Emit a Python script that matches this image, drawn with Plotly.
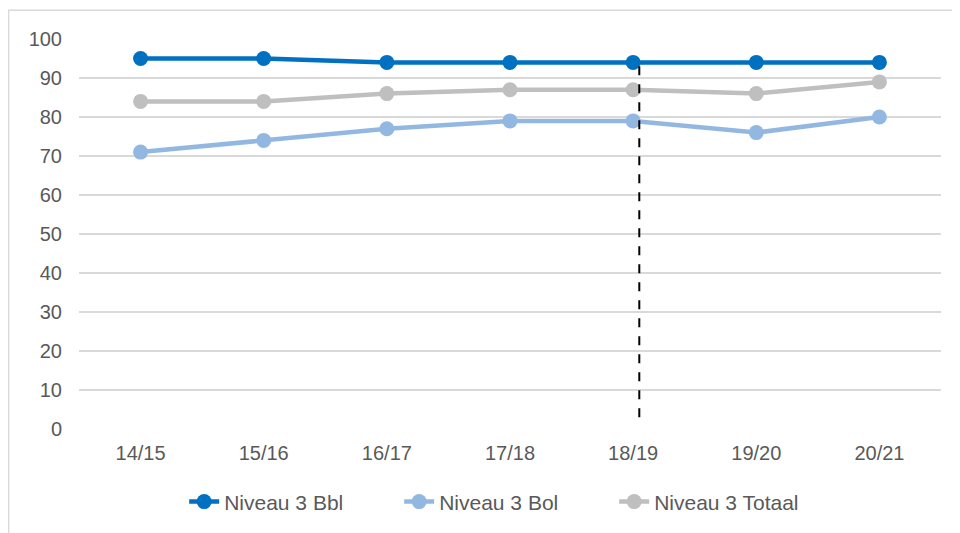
import plotly.graph_objects as go

categories = ["14/15", "15/16", "16/17", "17/18", "18/19", "19/20", "20/21"]
bbl = [95, 95, 94, 94, 94, 94, 94]
bol = [71, 74, 77, 79, 79, 76, 80]
totaal = [84, 84, 86, 87, 87, 86, 89]
series_names = ["Niveau 3 Bbl", "Niveau 3 Bol", "Niveau 3 Totaal"]
colors = ["#0070C0", "#92B8E2", "#BFBFBF"]

marker_x = 4.05
marker_y = [3, 95]

fig = go.Figure()
for name, vals, col in zip(series_names, [bbl, bol, totaal], colors):
    fig.add_trace(go.Scatter(
        x=categories, y=vals, name=name, mode="lines+markers",
        line=dict(color=col, width=4.5),
        marker=dict(color=col, size=15),
    ))

fig.add_shape(type="line", xref="x", yref="y",
              x0=marker_x, x1=marker_x, y0=marker_y[0], y1=marker_y[1],
              line=dict(color="black", width=2, dash="dash"))

# chart frame
fig.add_shape(type="rect", xref="paper", yref="paper",
              x0=-0.0817, x1=1.06, y0=-0.40, y1=1.074,
              line=dict(color="#D9D9D9", width=1.5), layer="below")

fig.update_layout(
    width=952, height=525,
    margin=dict(l=71, r=19, t=31, b=104, autoexpand=False),
    paper_bgcolor="white", plot_bgcolor="white",
    font=dict(family="Liberation Sans, Arial, sans-serif", size=20, color="#595959"),
    showlegend=True,
    legend=dict(orientation="h", x=0.122, xanchor="left", y=-0.187, yanchor="middle",
                font=dict(size=21, color="#595959"), entrywidth=170, entrywidthmode="pixels",
                tracegroupgap=0),
    xaxis=dict(type="category", showgrid=False, zeroline=False, showline=False,
               ticks="", ticklabelstandoff=10, range=[-0.5, 6.5]),
    yaxis=dict(range=[0, 100], dtick=10, showgrid=True, gridcolor="#D9D9D9", gridwidth=1.5,
               zeroline=False, showline=False, ticks="", ticklabelstandoff=16),
)

fig.write_html("out.html")
